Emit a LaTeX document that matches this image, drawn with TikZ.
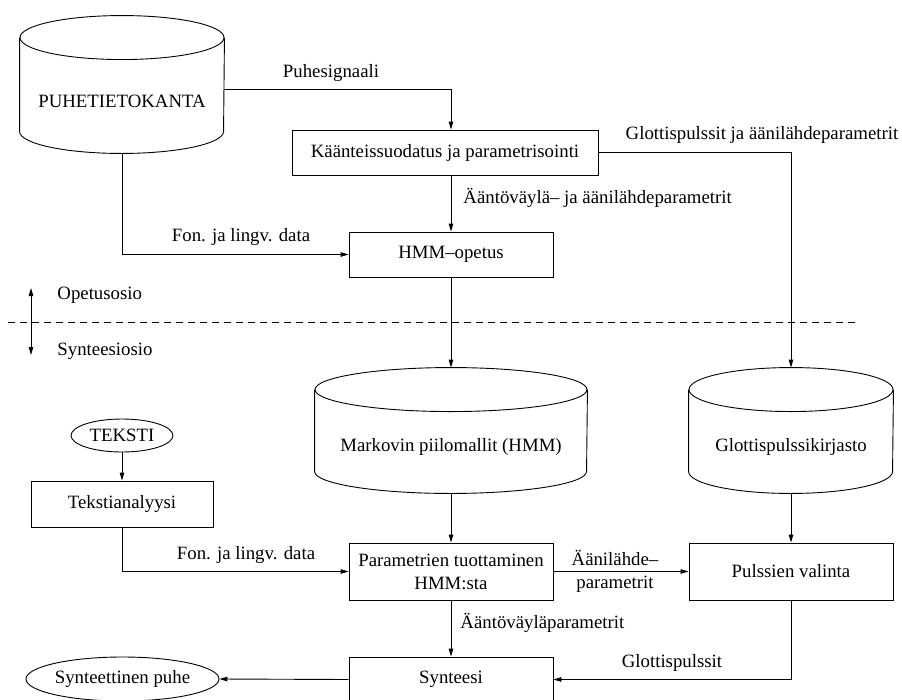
\documentclass[tikz,border=0pt]{standalone}
\usepackage{fontspec}
\setmainfont{Liberation Serif}
\usetikzlibrary{arrows.meta,calc,shapes.geometric}
\begin{document}
\begin{tikzpicture}[x=1pt,y=-1pt,
  font=\fontsize{18.8}{22}\selectfont,
  line width=0.9pt,
  >={Triangle[length=8pt,width=4.5pt]},
  box/.style={draw,rectangle,minimum height=45pt,inner sep=2pt,align=center},
  oval/.style={draw,ellipse,inner sep=0pt},
  dbshape/.style={rectangle,inner sep=0pt},
  lbl/.style={inner sep=1pt},
  conn/.style={->}]
\useasboundingbox (0,0) rectangle (902,699);

% cylinders (databases)
\node[dbshape,minimum width=204pt,minimum height=137pt] (puhe) at (122,84.5) {};
\node[dbshape,minimum width=272pt,minimum height=125pt] (markov) at (451,430.5) {};
\node[dbshape,minimum width=204pt,minimum height=125pt] (glotlib) at (791,430.5) {};
\foreach \n/\rx in {puhe/102,markov/136,glotlib/102}{
  \draw ([yshift=-22pt]\n.north) ellipse [x radius=\rx pt, y radius=22pt];
  \draw ([yshift=-22pt]\n.north west) -- ([yshift=22pt]\n.south west)
     arc[start angle=180,end angle=360,x radius=\rx pt,y radius=22pt]
     -- ([yshift=-22pt]\n.north east);
}
\node[lbl] (puhetxt) at (122,101) {PUHETIETOKANTA};
\node[lbl] (markovtxt) at (451,447) {Markovin piilomallit (HMM)};
\node[lbl] (glotlibtxt) at (791,447) {Glottispulssikirjasto};

% boxes
\node[box,minimum width=306pt] (kaant) at (445,152.5) {Käänteissuodatus ja parametrisointi};
\node[box,minimum width=204pt] (hmm) at (451,254.5) {HMM–opetus};
\node[box,minimum width=182pt,minimum height=46pt] (teksti) at (122,504) {Tekstianalyysi};
\node[box,minimum width=204pt,minimum height=57pt,inner sep=1pt,font=\fontsize{18.8}{23}\selectfont] (param) at (451,571.5) {Parametrien tuottaminen\\HMM:sta};
\node[box,minimum width=204pt,minimum height=57pt] (pulss) at (791,571.5) {Pulssien valinta};
\node[box,minimum width=204pt] (synt) at (451,679.5) {Synteesi};

% ovals
\node[oval,minimum width=102pt,minimum height=33pt] (tekstin) at (122,435.5) {TEKSTI};
\node[oval,minimum width=193pt,minimum height=44pt] (puheout) at (122.5,679) {Synteettinen puhe};

% helper coordinates
\coordinate (c1) at (451,89);
\coordinate (c2) at (791,152.5);
\coordinate (c3) at (122,254.5);
\coordinate (c4) at (122,571.5);
\coordinate (c5) at (791,679.5);
\coordinate (dl) at (8,322.5);
\coordinate (dr) at (857,322.5);
\coordinate (ua) at (31,288);
\coordinate (da) at (31,355);

% connectors
\draw[conn] ($(puhe.east)+(0,4.5)$) -- (c1) -- (hmm.north |- kaant.north);
\draw[conn] (kaant.east) -- (c2) -- (glotlib.north);
\draw[conn] (hmm.north |- kaant.south) -- (hmm.north);
\draw[conn] (puhe.south) -- (c3) -- (hmm.west);
\draw[conn] (hmm.south) -- (markov.north);
\draw[conn] (tekstin.south) -- (teksti.north);
\draw[conn] (teksti.south) -- (c4) -- (param.west);
\draw[conn] (markov.south) -- (param.north);
\draw[conn] (glotlib.south) -- (pulss.north);
\draw[conn] (param.east) -- (pulss.west);
\draw[conn] (param.south) -- (synt.north);
\draw[conn] (synt.west) -- (puheout.east);
\draw[conn] (pulss.south) -- (c5) -- (synt.east);
\draw[dash pattern=on 7pt off 5pt] (dl) -- (dr);
\draw[<->] (ua) -- (da);

% labels
\node[lbl] (l1) at (331,73) {Puhesignaali};
\node[lbl] (l2) at (762,135) {Glottispulssit ja äänilähdeparametrit};
\node[lbl,anchor=west] (l3) at (462,198) {Ääntöväylä– ja äänilähdeparametrit};
\node[lbl] (l4) at (241,237) {Fon. ja lingv. data};
\node[lbl,anchor=west] (l5) at (56,295) {Opetusosio};
\node[lbl,anchor=west] (l6) at (56,351) {Synteesiosio};
\node[lbl] (l7) at (246,555) {Fon. ja lingv. data};
\node[lbl,align=center,font=\fontsize{18.8}{23}\selectfont] (l8) at (615,571.5) {Äänilähde–\\parametrit};
\node[lbl,anchor=west] (l9) at (459,623) {Ääntöväyläparametrit};
\node[lbl] (l10) at (672,663) {Glottispulssit};
\end{tikzpicture}
\end{document}
